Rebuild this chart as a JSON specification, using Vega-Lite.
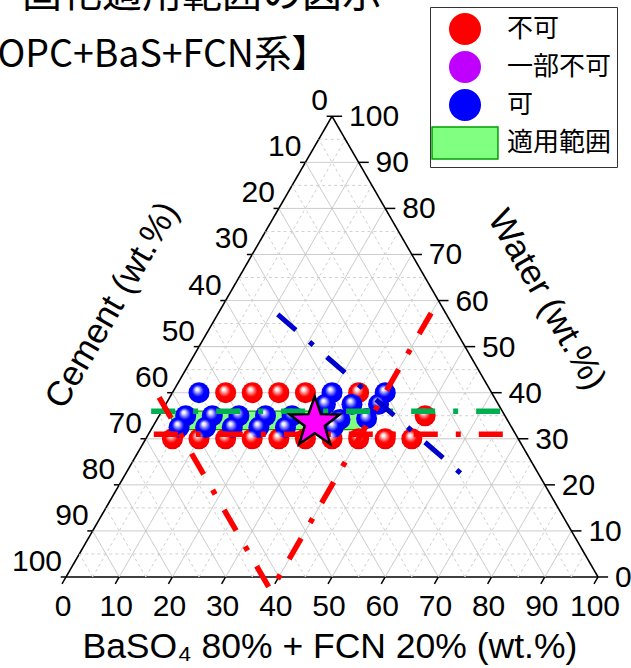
{
 "$schema": "https://vega.github.io/schema/vega-lite/v6.json",
 "width": 631, "height": 668, "padding": 0, "autosize": {"type": "none"},
 "background": "white",
 "config": {
  "view": {"stroke": null},
  "legend": {"orient": "none", "legendX": 430, "legendY": 7, "symbolSize": 1024, "symbolOffset": 13, "labelFont": "Noto Sans CJK JP", "labelFontSize": 26, "labelColor": "#000000", "labelOffset": 25, "rowPadding": 0, "padding": 5, "strokeColor": "#333333", "fillColor": "#ffffff", "symbolStrokeWidth": 1.5, "labelLimit": 300}
 },
 "datasets": {
  "grid": [{"k":0},{"k":5},{"k":10},{"k":15},{"k":20},{"k":25},{"k":30},{"k":35},{"k":40},{"k":45},{"k":50},{"k":55},{"k":60},{"k":65},{"k":70},{"k":75},{"k":80},{"k":85},{"k":90},{"k":95}],
  "ticks": [{"k":0},{"k":10},{"k":20},{"k":30},{"k":40},{"k":50},{"k":60},{"k":70},{"k":80},{"k":90},{"k":100}],
  "pts": [
   {"cat":"不可","w":40,"b":10},{"cat":"不可","w":40,"b":15},{"cat":"不可","w":40,"b":20},{"cat":"不可","w":40,"b":25},{"cat":"不可","w":40,"b":35},
   {"cat":"不可","w":30,"b":5},{"cat":"不可","w":30,"b":10},{"cat":"不可","w":30,"b":15},{"cat":"不可","w":30,"b":20},{"cat":"不可","w":30,"b":25},
   {"cat":"不可","w":30,"b":30},{"cat":"不可","w":30,"b":35},{"cat":"不可","w":30,"b":40},{"cat":"不可","w":30,"b":45},{"cat":"不可","w":30,"b":50},
   {"cat":"不可","w":35,"b":50},
   {"cat":"可","w":40,"b":5},{"cat":"可","w":40,"b":30},{"cat":"可","w":40,"b":40},
   {"cat":"可","w":37.5,"b":30},{"cat":"可","w":37.5,"b":35},{"cat":"可","w":37.5,"b":40},
   {"cat":"可","w":35,"b":5},{"cat":"可","w":35,"b":10},{"cat":"可","w":35,"b":15},{"cat":"可","w":35,"b":20},{"cat":"可","w":35,"b":25},
   {"cat":"可","w":32.5,"b":5},{"cat":"可","w":32.5,"b":10},{"cat":"可","w":32.5,"b":15},{"cat":"可","w":32.5,"b":20},{"cat":"可","w":32.5,"b":25},
   {"cat":"可","w":34.2,"b":34.4},{"cat":"可","w":34.4,"b":39.3},{"cat":"可","w":32.5,"b":34}
  ],
  "band": [{"w":32,"bL":5,"bR":40},{"w":36,"bL":1,"bR":40}],
  "lines": [
   {"id":"green","o":0,"w":36,"b":-2},{"id":"green","o":1,"w":36,"b":64},
   {"id":"redH","o":0,"w":31,"b":1},{"id":"redH","o":1,"w":31,"b":67.5},
   {"id":"redV","o":0,"w":39,"b":-2},{"id":"redV","o":1,"w":-3,"b":40},{"id":"redV","o":2,"w":57.5,"b":40},
   {"id":"blue","o":0,"w":57,"b":11.3},{"id":"blue","o":1,"w":22,"b":63.7}
  ],
  "star": [{"w":33.5,"b":30}]
 },
 "layer": [
  {
   "data": {"name": "grid"},
   "transform": [{"calculate": "datum.k/2", "as": "X"}, {"calculate": "datum.k*0.8660254", "as": "Y"}, {"calculate": "100-datum.k/2", "as": "X2"}],
   "mark": {"type": "rule"},
   "encoding": {
    "x": {"field": "X", "type": "quantitative", "scale": {"domain": [-12.41, 106.2], "nice": false, "zero": false}, "axis": null},
    "y": {"field": "Y", "type": "quantitative", "scale": {"domain": [-17.11, 108.46], "nice": false, "zero": false}, "axis": null},
    "x2": {"field": "X2"}, "y2": {"field": "Y"},
    "stroke": {"condition": [{"test": "datum.k===0", "value": "#000000"}, {"test": "datum.k%10===0", "value": "#c4c4c4"}], "value": "#d0d0d0"},
    "strokeWidth": {"condition": {"test": "datum.k===0", "value": 1.6}, "value": 1},
    "strokeDash": {"condition": {"test": "datum.k%10===0", "value": [1, 0]}, "value": [3, 3]}
   }
  },
  {
   "data": {"name": "grid"},
   "transform": [{"calculate": "datum.k", "as": "X"}, {"calculate": "0", "as": "Y"}, {"calculate": "50+datum.k/2", "as": "X2"}, {"calculate": "(100-datum.k)*0.8660254", "as": "Y2"}],
   "mark": {"type": "rule"},
   "encoding": {
    "x": {"field": "X", "type": "quantitative", "scale": {"domain": [-12.41, 106.2], "nice": false, "zero": false}, "axis": null},
    "y": {"field": "Y", "type": "quantitative", "scale": {"domain": [-17.11, 108.46], "nice": false, "zero": false}, "axis": null},
    "x2": {"field": "X2"}, "y2": {"field": "Y2"},
    "stroke": {"condition": [{"test": "datum.k===0", "value": "#000000"}, {"test": "datum.k%10===0", "value": "#c4c4c4"}], "value": "#d0d0d0"},
    "strokeWidth": {"condition": {"test": "datum.k===0", "value": 1.6}, "value": 1},
    "strokeDash": {"condition": {"test": "datum.k%10===0", "value": [1, 0]}, "value": [3, 3]}
   }
  },
  {
   "data": {"name": "grid"},
   "transform": [{"calculate": "100-datum.k", "as": "X"}, {"calculate": "0", "as": "Y"}, {"calculate": "(100-datum.k)/2", "as": "X2"}, {"calculate": "(100-datum.k)*0.8660254", "as": "Y2"}],
   "mark": {"type": "rule"},
   "encoding": {
    "x": {"field": "X", "type": "quantitative", "scale": {"domain": [-12.41, 106.2], "nice": false, "zero": false}, "axis": null},
    "y": {"field": "Y", "type": "quantitative", "scale": {"domain": [-17.11, 108.46], "nice": false, "zero": false}, "axis": null},
    "x2": {"field": "X2"}, "y2": {"field": "Y2"},
    "stroke": {"condition": [{"test": "datum.k===0", "value": "#000000"}, {"test": "datum.k%10===0", "value": "#c4c4c4"}], "value": "#d0d0d0"},
    "strokeWidth": {"condition": {"test": "datum.k===0", "value": 1.6}, "value": 1},
    "strokeDash": {"condition": {"test": "datum.k%10===0", "value": [1, 0]}, "value": [3, 3]}
   }
  },
  {
   "data": {"name": "ticks"},
   "transform": [{"calculate": "datum.k", "as": "X"}, {"calculate": "0", "as": "Y"}, {"calculate": "datum.k-0.75", "as": "X2"}, {"calculate": "-1.3", "as": "Y2"}],
   "mark": {"type": "rule", "color": "#000000", "strokeWidth": 1.5},
   "encoding": {
    "x": {"field": "X", "type": "quantitative", "scale": {"domain": [-12.41, 106.2], "nice": false, "zero": false}, "axis": null},
    "y": {"field": "Y", "type": "quantitative", "scale": {"domain": [-17.11, 108.46], "nice": false, "zero": false}, "axis": null},
    "x2": {"field": "X2"}, "y2": {"field": "Y2"}
   }
  },
  {
   "data": {"name": "ticks"},
   "transform": [{"calculate": "100-datum.k/2", "as": "X"}, {"calculate": "datum.k*0.8660254", "as": "Y"}, {"calculate": "100-datum.k/2+1.9", "as": "X2"}],
   "mark": {"type": "rule", "color": "#000000", "strokeWidth": 1.5},
   "encoding": {
    "x": {"field": "X", "type": "quantitative", "scale": {"domain": [-12.41, 106.2], "nice": false, "zero": false}, "axis": null},
    "y": {"field": "Y", "type": "quantitative", "scale": {"domain": [-17.11, 108.46], "nice": false, "zero": false}, "axis": null},
    "x2": {"field": "X2"}, "y2": {"field": "Y"}
   }
  },
  {
   "data": {"name": "ticks"},
   "transform": [{"calculate": "(100-datum.k)/2", "as": "X"}, {"calculate": "(100-datum.k)*0.8660254", "as": "Y"}, {"calculate": "(100-datum.k)/2-1", "as": "X2"}],
   "mark": {"type": "rule", "color": "#000000", "strokeWidth": 1.5},
   "encoding": {
    "x": {"field": "X", "type": "quantitative", "scale": {"domain": [-12.41, 106.2], "nice": false, "zero": false}, "axis": null},
    "y": {"field": "Y", "type": "quantitative", "scale": {"domain": [-17.11, 108.46], "nice": false, "zero": false}, "axis": null},
    "x2": {"field": "X2"}, "y2": {"field": "Y"}
   }
  },
  {
   "data": {"name": "ticks"},
   "transform": [{"calculate": "datum.k", "as": "X"}, {"calculate": "0", "as": "Y"}],
   "mark": {"type": "text", "font": "Liberation Sans", "fontSize": 30, "align": "center", "baseline": "middle", "dx": -3, "dy": 30, "color": "#000000"},
   "encoding": {
    "x": {"field": "X", "type": "quantitative", "scale": {"domain": [-12.41, 106.2], "nice": false, "zero": false}, "axis": null},
    "y": {"field": "Y", "type": "quantitative", "scale": {"domain": [-17.11, 108.46], "nice": false, "zero": false}, "axis": null},
    "text": {"field": "k", "type": "nominal"}
   }
  },
  {
   "data": {"name": "ticks"},
   "transform": [{"calculate": "100-datum.k/2", "as": "X"}, {"calculate": "datum.k*0.8660254", "as": "Y"}],
   "mark": {"type": "text", "font": "Liberation Sans", "fontSize": 30, "align": "left", "baseline": "middle", "dx": 17, "dy": 1, "color": "#000000"},
   "encoding": {
    "x": {"field": "X", "type": "quantitative", "scale": {"domain": [-12.41, 106.2], "nice": false, "zero": false}, "axis": null},
    "y": {"field": "Y", "type": "quantitative", "scale": {"domain": [-17.11, 108.46], "nice": false, "zero": false}, "axis": null},
    "text": {"field": "k", "type": "nominal"}
   }
  },
  {
   "data": {"name": "ticks"},
   "transform": [{"calculate": "(100-datum.k)/2", "as": "X"}, {"calculate": "(100-datum.k)*0.8660254", "as": "Y"}],
   "mark": {"type": "text", "font": "Liberation Sans", "fontSize": 30, "align": "right", "baseline": "middle", "dx": -4, "dy": -15, "color": "#000000"},
   "encoding": {
    "x": {"field": "X", "type": "quantitative", "scale": {"domain": [-12.41, 106.2], "nice": false, "zero": false}, "axis": null},
    "y": {"field": "Y", "type": "quantitative", "scale": {"domain": [-17.11, 108.46], "nice": false, "zero": false}, "axis": null},
    "text": {"field": "k", "type": "nominal"}
   }
  },
  {
   "data": {"name": "band"},
   "transform": [{"calculate": "datum.w*0.8660254", "as": "Y"}, {"calculate": "datum.bL+datum.w/2", "as": "X"}, {"calculate": "datum.bR+datum.w/2", "as": "X2"}],
   "mark": {"type": "area", "orient": "horizontal", "fill": "#80ff80", "stroke": "#00a000", "strokeWidth": 1.2, "opacity": 1},
   "encoding": {
    "x": {"field": "X", "type": "quantitative", "scale": {"domain": [-12.41, 106.2], "nice": false, "zero": false}, "axis": null},
    "y": {"field": "Y", "type": "quantitative", "scale": {"domain": [-17.11, 108.46], "nice": false, "zero": false}, "axis": null},
    "x2": {"field": "X2"}
   }
  },
  {
   "data": {"name": "pts"},
   "transform": [{"calculate": "datum.b+datum.w/2", "as": "X"}, {"calculate": "datum.w*0.8660254", "as": "Y"}],
   "mark": {"type": "point", "filled": true, "size": 441, "opacity": 1, "strokeWidth": 1.5},
   "encoding": {
    "x": {"field": "X", "type": "quantitative", "scale": {"domain": [-12.41, 106.2], "nice": false, "zero": false}, "axis": null},
    "y": {"field": "Y", "type": "quantitative", "scale": {"domain": [-17.11, 108.46], "nice": false, "zero": false}, "axis": null},
    "fill": {"field": "cat", "type": "nominal", "legend": {"title": null},
     "scale": {"domain": ["不可", "一部不可", "可", "適用範囲"], "range": ["#ff0000", "#c000ff", "#0000ff", "#80ff80"]}},
    "shape": {"field": "cat", "type": "nominal", "legend": {"title": null},
     "scale": {"domain": ["不可", "一部不可", "可", "適用範囲"], "range": ["circle", "circle", "circle", "M-2.06,-1H2.06V1H-2.06Z"]}},
    "stroke": {"field": "cat", "type": "nominal", "legend": {"title": null},
     "scale": {"domain": ["不可", "一部不可", "可", "適用範囲"], "range": ["transparent", "transparent", "transparent", "#00a000"]}}
   }
  },
  {
   "data": {"name": "pts"},
   "transform": [{"calculate": "datum.b+datum.w/2", "as": "X"}, {"calculate": "datum.w*0.8660254", "as": "Y"}],
   "mark": {"type": "point", "filled": true, "size": 441, "opacity": 1, "strokeWidth": 0,
    "fill": {"gradient": "radial", "x1": 0.4, "y1": 0.32, "r1": 0, "x2": 0.5, "y2": 0.5, "r2": 0.55, "stops": [{"offset": 0, "color": "rgba(255,255,255,1)"}, {"offset": 0.12, "color": "rgba(255,255,255,0.95)"}, {"offset": 0.34, "color": "rgba(255,255,255,0.4)"}, {"offset": 0.52, "color": "rgba(255,255,255,0)"}, {"offset": 0.8, "color": "rgba(0,0,0,0)"}, {"offset": 1, "color": "rgba(0,0,0,0.18)"}]}},
   "encoding": {
    "x": {"field": "X", "type": "quantitative", "scale": {"domain": [-12.41, 106.2], "nice": false, "zero": false}, "axis": null},
    "y": {"field": "Y", "type": "quantitative", "scale": {"domain": [-17.11, 108.46], "nice": false, "zero": false}, "axis": null}
   }
  },
  {
   "data": {"name": "lines"},
   "transform": [{"filter": "datum.id==='green'"}, {"calculate": "datum.b+datum.w/2", "as": "X"}, {"calculate": "datum.w*0.8660254", "as": "Y"}],
   "mark": {"type": "line", "color": "#00b050", "strokeWidth": 5.5, "strokeDash": [24, 18, 5, 18], "strokeCap": "butt"},
   "encoding": {
    "x": {"field": "X", "type": "quantitative", "scale": {"domain": [-12.41, 106.2], "nice": false, "zero": false}, "axis": null},
    "y": {"field": "Y", "type": "quantitative", "scale": {"domain": [-17.11, 108.46], "nice": false, "zero": false}, "axis": null},
    "order": {"field": "o"}
   }
  },
  {
   "data": {"name": "lines"},
   "transform": [{"filter": "datum.id==='redH' || datum.id==='redV'"}, {"calculate": "datum.b+datum.w/2", "as": "X"}, {"calculate": "datum.w*0.8660254", "as": "Y"}],
   "mark": {"type": "line", "color": "#ff0000", "strokeWidth": 5.5, "strokeDash": [24, 18, 5, 18], "strokeCap": "butt"},
   "encoding": {
    "x": {"field": "X", "type": "quantitative", "scale": {"domain": [-12.41, 106.2], "nice": false, "zero": false}, "axis": null},
    "y": {"field": "Y", "type": "quantitative", "scale": {"domain": [-17.11, 108.46], "nice": false, "zero": false}, "axis": null},
    "detail": {"field": "id"},
    "order": {"field": "o"}
   }
  },
  {
   "data": {"name": "lines"},
   "transform": [{"filter": "datum.id==='blue'"}, {"calculate": "datum.b+datum.w/2", "as": "X"}, {"calculate": "datum.w*0.8660254", "as": "Y"}],
   "mark": {"type": "line", "color": "#0000cc", "strokeWidth": 5, "strokeDash": [24, 18, 5, 18], "strokeCap": "butt"},
   "encoding": {
    "x": {"field": "X", "type": "quantitative", "scale": {"domain": [-12.41, 106.2], "nice": false, "zero": false}, "axis": null},
    "y": {"field": "Y", "type": "quantitative", "scale": {"domain": [-17.11, 108.46], "nice": false, "zero": false}, "axis": null},
    "order": {"field": "o"}
   }
  },
  {
   "data": {"name": "star"},
   "transform": [{"calculate": "datum.b+datum.w/2", "as": "X"}, {"calculate": "datum.w*0.8660254", "as": "Y"}],
   "mark": {"type": "point", "shape": "M0,-1L0.235,-0.324L0.951,-0.309L0.38,0.124L0.588,0.809L0,0.4L-0.588,0.809L-0.38,0.124L-0.951,-0.309L-0.235,-0.324Z", "size": 2765, "filled": true, "fill": "#ff00ff", "stroke": "#000000", "strokeWidth": 2.5, "opacity": 1},
   "encoding": {
    "x": {"field": "X", "type": "quantitative", "scale": {"domain": [-12.41, 106.2], "nice": false, "zero": false}, "axis": null},
    "y": {"field": "Y", "type": "quantitative", "scale": {"domain": [-17.11, 108.46], "nice": false, "zero": false}, "axis": null}
   }
  },
  {
   "data": {"values": [{}]},
   "mark": {"type": "text", "text": "BaSO₄ 80% + FCN 20% (wt.%)", "font": "Liberation Sans", "fontSize": 35.5, "align": "center", "baseline": "middle", "color": "#000000"},
   "encoding": {
    "x": {"datum": 49.6, "type": "quantitative", "scale": {"domain": [-12.41, 106.2], "nice": false, "zero": false}, "axis": null},
    "y": {"datum": -13.1, "type": "quantitative", "scale": {"domain": [-17.11, 108.46], "nice": false, "zero": false}, "axis": null}
   }
  },
  {
   "data": {"values": [{}]},
   "mark": {"type": "text", "text": "Cement (wt.%)", "font": "Liberation Sans", "fontSize": 35, "align": "center", "baseline": "middle", "angle": 300, "color": "#000000"},
   "encoding": {
    "x": {"datum": 8.65, "type": "quantitative", "scale": {"domain": [-12.41, 106.2], "nice": false, "zero": false}, "axis": null},
    "y": {"datum": 51.1, "type": "quantitative", "scale": {"domain": [-17.11, 108.46], "nice": false, "zero": false}, "axis": null}
   }
  },
  {
   "data": {"values": [{}]},
   "mark": {"type": "text", "text": "Water (wt.%)", "font": "Liberation Sans", "fontSize": 35, "align": "center", "baseline": "middle", "angle": 60, "color": "#000000"},
   "encoding": {
    "x": {"datum": 90.4, "type": "quantitative", "scale": {"domain": [-12.41, 106.2], "nice": false, "zero": false}, "axis": null},
    "y": {"datum": 52.1, "type": "quantitative", "scale": {"domain": [-17.11, 108.46], "nice": false, "zero": false}, "axis": null}
   }
  },
  {
   "data": {"values": [{}]},
   "mark": {"type": "text", "text": "固化適用範囲の図示", "font": "Noto Sans CJK JP", "fontSize": 40, "align": "left", "baseline": "alphabetic", "color": "#000000"},
   "encoding": {
    "x": {"datum": -8.27, "type": "quantitative", "scale": {"domain": [-12.41, 106.2], "nice": false, "zero": false}, "axis": null},
    "y": {"datum": 107.1, "type": "quantitative", "scale": {"domain": [-17.11, 108.46], "nice": false, "zero": false}, "axis": null}
   }
  },
  {
   "data": {"values": [{}]},
   "mark": {"type": "text", "text": "OPC+BaS+FCN系】", "font": "Noto Sans CJK JP", "fontSize": 37.5, "align": "left", "baseline": "alphabetic", "color": "#000000"},
   "encoding": {
    "x": {"datum": -12.9, "type": "quantitative", "scale": {"domain": [-12.41, 106.2], "nice": false, "zero": false}, "axis": null},
    "y": {"datum": 95.9, "type": "quantitative", "scale": {"domain": [-17.11, 108.46], "nice": false, "zero": false}, "axis": null}
   }
  }
 ]
}
